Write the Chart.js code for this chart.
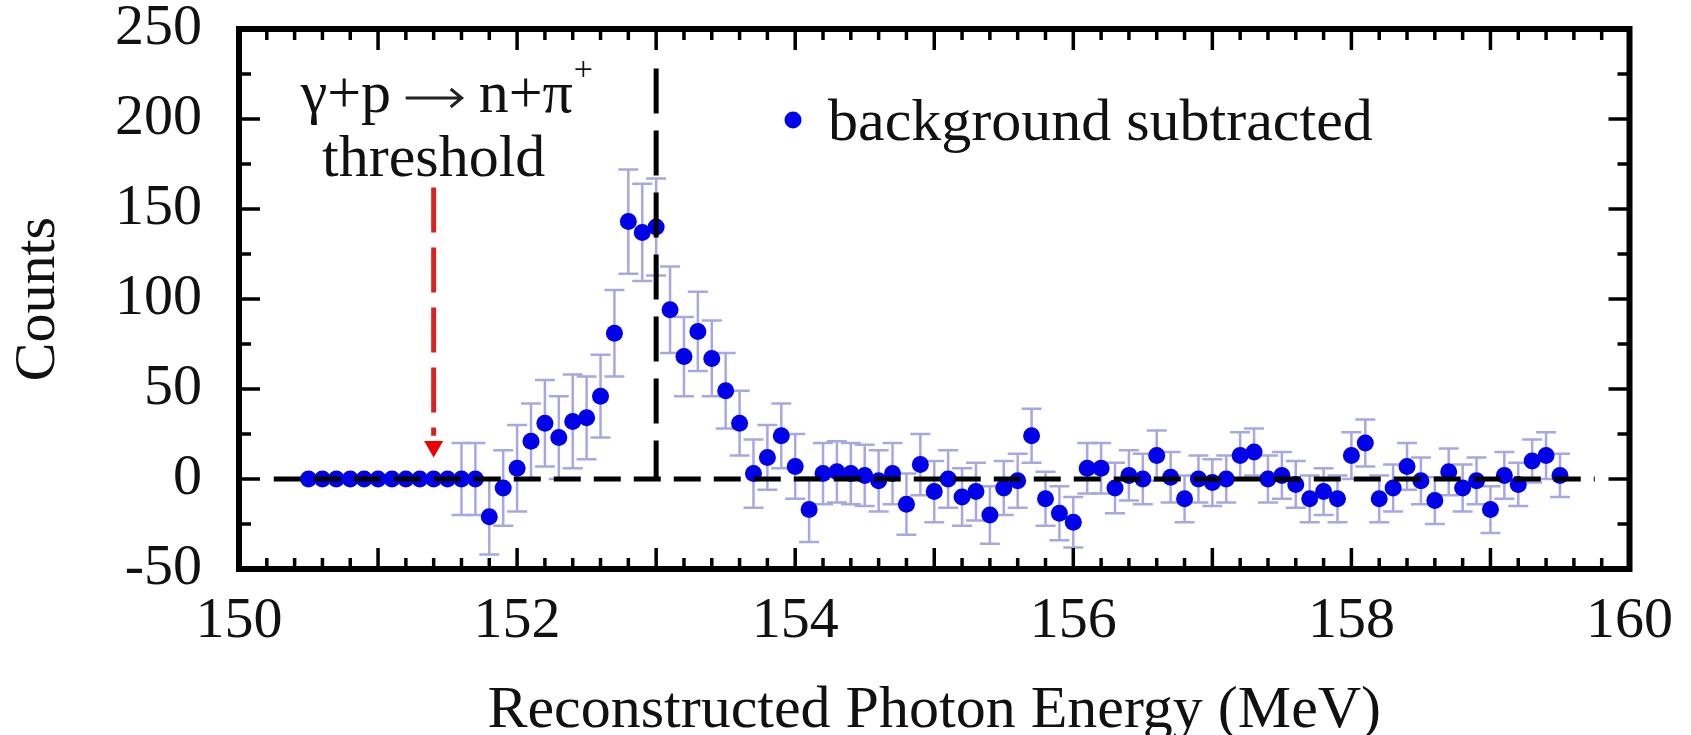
<!DOCTYPE html>
<html lang="en">
<head>
  <meta charset="UTF-8">
  <title>Counts vs Reconstructed Photon Energy</title>
  <style>
    html, body { margin: 0; padding: 0; background: #fff; }
    .chart-box { width: 1691px; height: 735px; }
  </style>
</head>
<body>
  <div class="chart-box"><canvas id="countsChart"></canvas></div>

  <script src="https://cdn.jsdelivr.net/npm/chart.js"></script>
  <script>
    // photon energy bins (MeV)
    var energy = [
      150.5, 150.6, 150.7, 150.8, 150.9, 151.0, 151.1, 151.2, 151.3, 151.4,
      151.5, 151.6, 151.7, 151.8, 151.9, 152.0, 152.1, 152.2, 152.3, 152.4,
      152.5, 152.6, 152.7, 152.8, 152.9, 153.0, 153.1, 153.2, 153.3, 153.4,
      153.5, 153.6, 153.7, 153.8, 153.9, 154.0, 154.1, 154.2, 154.3, 154.4,
      154.5, 154.6, 154.7, 154.8, 154.9, 155.0, 155.1, 155.2, 155.3, 155.4,
      155.5, 155.6, 155.7, 155.8, 155.9, 156.0, 156.1, 156.2, 156.3, 156.4,
      156.5, 156.6, 156.7, 156.8, 156.9, 157.0, 157.1, 157.2, 157.3, 157.4,
      157.5, 157.6, 157.7, 157.8, 157.9, 158.0, 158.1, 158.2, 158.3, 158.4,
      158.5, 158.6, 158.7, 158.8, 158.9, 159.0, 159.1, 159.2, 159.3, 159.4,
      159.5
    ];
    // background subtracted counts
    var counts = [
      0, 0, 0, 0, 0, 0, 0, 0, 0, 0,
      0, 0, 0, -21, -5, 6, 21, 31, 23, 32,
      34, 46, 81, 143, 137, 140, 94, 68, 82, 67,
      49, 31, 3, 12, 24, 7, -17, 3, 4, 3,
      2, -1, 3, -14, 8, -7, 0, -10, -7, -20,
      -5, -1, 24, -11, -19, -24, 6, 6, -5, 2,
      0, 13, 1, -11, 0, -2, 0, 13, 15, 0,
      2, -3, -11, -7, -11, 13, 20, -11, -5, 7,
      -1, -12, 4, -5, -1, -17, 2, -3, 10, 13,
      2
    ];
    // statistical errors
    var errors = [
      0, 0, 0, 0, 0, 0, 0, 0, 0, 0,
      0, 20, 20, 21, 21, 24, 21, 24, 23, 26,
      23, 23, 24, 29, 27, 27, 24, 22, 22, 21,
      21, 18, 19, 18, 18, 18, 18, 17, 17, 17,
      17, 17, 17, 17, 17, 17, 16, 16, 16, 16,
      15, 15, 15, 15, 15, 14, 14, 14, 14, 14,
      14, 14, 14, 13, 13, 13, 13, 13, 13, 13,
      13, 13, 13, 13, 13, 13, 13, 13, 13, 13,
      13, 13, 13, 13, 13, 13, 13, 12, 12, 13,
      12
    ];

    // reference lines
    var zeroLineX = [150.25, 159.75];
    var zeroLineY = [0, 0];
    var peakLineX = [153.0, 153.0];
    var peakLineY = [228, 0];
    // threshold arrow (gamma + p -> n + pi+)
    var arrowX = [151.4, 151.4];
    var arrowY = [162, 24];
    var arrowHeadY = 18;

    var legendLabel = 'background subtracted';
    var pointBlue = 'rgb(0, 0, 235)';
    var serif = "'Liberation Serif', 'Times New Roman', serif";

    function toXY(xs, ys) {
      return xs.map(function (x, i) { return { x: x, y: ys[i] }; });
    }

    // error bars under the points
    var errorBars = {
      id: 'errorBars',
      beforeDatasetsDraw: function (chart) {
        var ctx = chart.ctx, xs = chart.scales.x, ys = chart.scales.y;
        ctx.save();
        ctx.strokeStyle = 'rgb(168, 168, 225)';
        ctx.lineWidth = 2.5;
        energy.forEach(function (e, i) {
          if (!errors[i]) return;
          var px = xs.getPixelForValue(e);
          var top = ys.getPixelForValue(counts[i] + errors[i]);
          var bot = ys.getPixelForValue(counts[i] - errors[i]);
          ctx.beginPath();
          ctx.moveTo(px, top); ctx.lineTo(px, bot);
          ctx.moveTo(px - 10, top); ctx.lineTo(px + 10, top);
          ctx.moveTo(px - 10, bot); ctx.lineTo(px + 10, bot);
          ctx.stroke();
        });
        ctx.restore();
      }
    };

    // box frame with inward ticks, legend and annotation text
    var frame = {
      id: 'frame',
      afterDraw: function (chart) {
        var ctx = chart.ctx, a = chart.chartArea, xs = chart.scales.x, ys = chart.scales.y;
        ctx.save();
        ctx.strokeStyle = '#000';
        ctx.lineWidth = 3.5;
        ctx.beginPath();
        for (var i = 0; i <= 50; i++) {
          var px = xs.getPixelForValue(150 + i * 0.2);
          var len = (i % 5 === 0) ? 21 : 11;
          ctx.moveTo(px, a.bottom); ctx.lineTo(px, a.bottom - len);
          ctx.moveTo(px, a.top); ctx.lineTo(px, a.top + len);
        }
        for (var j = 0; j <= 12; j++) {
          var py = ys.getPixelForValue(-50 + j * 25);
          var l2 = (j % 2 === 0) ? 21 : 12;
          ctx.moveTo(a.left, py); ctx.lineTo(a.left + l2, py);
          ctx.moveTo(a.right, py); ctx.lineTo(a.right - l2, py);
        }
        ctx.stroke();
        ctx.lineWidth = 6;
        ctx.strokeRect(a.left, a.top, a.right - a.left, a.bottom - a.top);

        // legend
        ctx.fillStyle = pointBlue;
        ctx.beginPath();
        ctx.arc(a.left + 554, a.top + 91, 8.5, 0, Math.PI * 2);
        ctx.fill();
        ctx.fillStyle = '#111';
        ctx.font = '60px ' + serif;
        ctx.textAlign = 'left';
        ctx.textBaseline = 'alphabetic';
        ctx.fillText(legendLabel, a.left + 589, a.top + 111);

        // threshold annotation: "γ+p ⟶ n+π⁺" over "threshold"
        var ax = xs.getPixelForValue(arrowX[0]);
        var base1 = a.top + 83;
        ctx.fillText('γ+p', ax - 133, base1);
        var right = 'n+π';
        ctx.fillText(right, ax + 45, base1);
        var wr = ctx.measureText(right).width;
        ctx.strokeStyle = '#222';
        ctx.lineWidth = 3;
        ctx.beginPath();
        ctx.moveTo(ax - 28, base1 - 14); ctx.lineTo(ax + 28, base1 - 14);
        ctx.moveTo(ax + 17, base1 - 23); ctx.lineTo(ax + 28, base1 - 14); ctx.lineTo(ax + 17, base1 - 5);
        ctx.stroke();
        ctx.font = '34px ' + serif;
        ctx.fillText('+', ax + 45 + wr + 1, base1 - 32);
        ctx.font = '60px ' + serif;
        ctx.textAlign = 'center';
        ctx.fillText('threshold', ax, a.top + 147);
        ctx.restore();
      }
    };

    var ctx = document.getElementById('countsChart').getContext('2d');
    var countsChart = new Chart(ctx, {
      type: 'scatter',
      data: {
        datasets: [
          {
            label: 'zero',
            data: toXY(zeroLineX, zeroLineY),
            showLine: true,
            borderColor: '#000',
            borderWidth: 5,
            borderDash: [27, 13],
            pointRadius: 0,
            order: 1
          },
          {
            label: 'peak',
            data: toXY(peakLineX, peakLineY),
            showLine: true,
            borderColor: '#000',
            borderWidth: 5,
            borderDash: [45, 17],
            pointRadius: 0,
            order: 1
          },
          {
            label: legendLabel,
            data: toXY(energy, counts),
            backgroundColor: pointBlue,
            borderColor: pointBlue,
            pointRadius: 8.5,
            pointBorderWidth: 0,
            order: 2
          },
          {
            label: 'threshold',
            data: toXY(arrowX, arrowY),
            showLine: true,
            borderColor: 'rgb(215, 35, 35)',
            borderWidth: 5,
            borderDash: [45, 15],
            pointRadius: 0,
            order: 0
          },
          {
            label: 'threshold head',
            data: [{ x: arrowX[1], y: arrowHeadY }],
            pointStyle: 'triangle',
            rotation: 180,
            pointRadius: 11,
            backgroundColor: 'rgb(235, 0, 0)',
            borderColor: 'rgb(235, 0, 0)',
            pointBorderWidth: 0,
            order: 0
          }
        ]
      },
      options: {
        responsive: true,
        maintainAspectRatio: false,
        animation: false,
        layout: { padding: { left: 0, right: 51, top: 29, bottom: 0 } },
        plugins: {
          legend: { display: false },
          tooltip: { enabled: false }
        },
        scales: {
          x: {
            type: 'linear',
            min: 150,
            max: 160,
            afterFit: function (s) { s.height = 166; },
            grid: { display: false, drawTicks: false },
            border: { display: false },
            ticks: {
              stepSize: 2,
              padding: 18,
              color: '#111',
              font: { family: serif, size: 58, lineHeight: 1.2 }
            },
            title: {
              display: true,
              text: 'Reconstructed Photon Energy (MeV)',
              color: '#111',
              padding: { top: 0, bottom: 0 },
              font: { family: serif, size: 60, lineHeight: 0.8 }
            }
          },
          y: {
            min: -50,
            max: 250,
            afterFit: function (s) {
              s.width = 239;
              s.paddingTop = 0;
              s.paddingBottom = 0;
            },
            grid: { display: false, drawTicks: false },
            border: { display: false },
            ticks: {
              stepSize: 50,
              padding: 37,
              color: '#111',
              font: { family: serif, size: 58, lineHeight: 1 }
            },
            title: {
              display: true,
              text: 'Counts',
              color: '#111',
              padding: { top: 4, bottom: 0 },
              font: { family: serif, size: 58, lineHeight: 1.2 }
            }
          }
        }
      },
      plugins: [errorBars, frame]
    });
  </script>
</body>
</html>
